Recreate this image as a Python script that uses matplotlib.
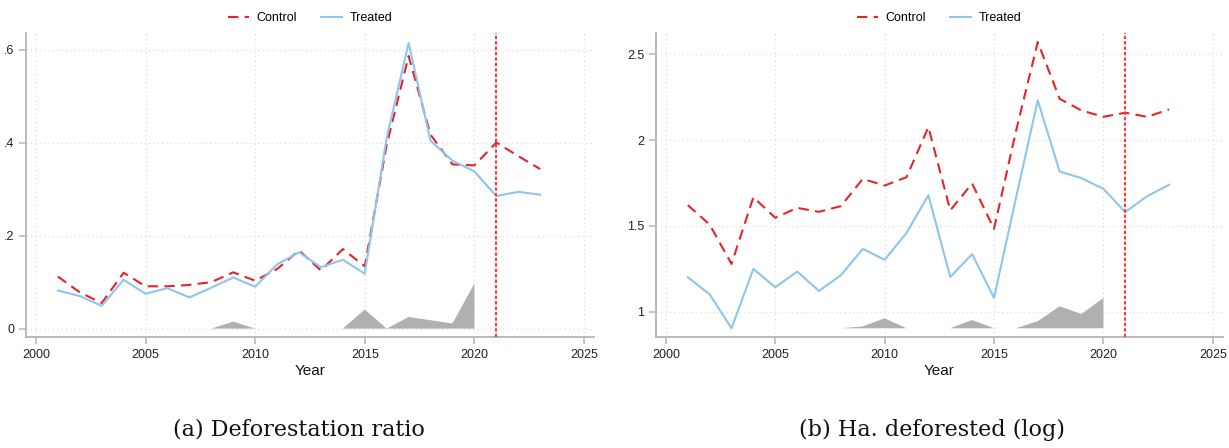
import matplotlib.pyplot as plt
import numpy as np

plt.rcParams['font.family'] = ['Liberation Sans', 'DejaVu Sans']

years = np.arange(2001, 2024)
nan = np.nan

# Panel (a): deforestation ratio
ratio_control = [0.112, 0.078, 0.055, 0.120, 0.091, 0.091, 0.094, 0.100, 0.121, 0.103,
                 0.128, 0.168, 0.125, 0.171, 0.134, 0.395, 0.586, 0.417, 0.353, 0.351,
                 0.400, 0.371, 0.343]
ratio_treated = [0.082, 0.070, 0.049, 0.105, 0.075, 0.087, 0.067, 0.088, 0.110, 0.090,
                 0.138, 0.164, 0.132, 0.148, 0.118, 0.410, 0.614, 0.404, 0.361, 0.338,
                 0.285, 0.294, 0.288]
ratio_gap = [nan, nan, nan, nan, nan, nan, nan, 0.0, 0.015, 0.0,
             nan, nan, nan, 0.0, 0.041, 0.0, 0.025, 0.018, 0.011, 0.097,
             nan, nan, nan]
ratio_base = 0.0

# Panel (b): hectares deforested (log)
ha_control = [1.621, 1.508, 1.278, 1.667, 1.547, 1.605, 1.582, 1.615, 1.774, 1.735,
              1.784, 2.076, 1.591, 1.747, 1.482, 2.050, 2.572, 2.241, 2.173, 2.136,
              2.160, 2.136, 2.179]
ha_treated = [1.200, 1.101, 0.903, 1.249, 1.142, 1.233, 1.121, 1.212, 1.366, 1.302,
              1.459, 1.679, 1.202, 1.335, 1.080, 1.660, 2.232, 1.817, 1.778, 1.716,
              1.580, 1.673, 1.739]
ha_gap = [nan, nan, nan, nan, nan, nan, nan, 0.903, 0.914, 0.961,
          0.903, nan, 0.903, 0.951, 0.903, 0.903, 0.944, 1.031, 0.986, 1.080,
          nan, nan, nan]
ha_base = 0.903

treat_year = 2021
xticks = [2000, 2005, 2010, 2015, 2020, 2025]

fig = plt.figure(figsize=(12.29, 4.48), dpi=100)
ax1 = fig.add_axes([0.0212, 0.2478, 0.462, 0.679])
ax2 = fig.add_axes([0.5338, 0.2478, 0.461, 0.679])

panels = [
    (ax1, ratio_control, ratio_treated, ratio_gap, ratio_base,
     (-0.018, 0.636), [0, 0.2, 0.4, 0.6], ['0', '.2', '.4', '.6'],
     '(a) Deforestation ratio', 0.481),
    (ax2, ha_control, ha_treated, ha_gap, ha_base,
     (0.852, 2.626), [1, 1.5, 2, 2.5], ['1', '1.5', '2', '2.5'],
     '(b) Ha. deforested (log)', 0.487),
]

for ax, ctrl, trt, gap, base, ylim, yt, ytl, caption, cap_x in panels:
    gap = np.array(gap, dtype=float)
    ax.fill_between(years, base, gap, where=~np.isnan(gap), color='#b0b0b0',
                    linewidth=0, zorder=2)
    ax.plot(years, ctrl, color='#e3242b', linestyle=(0, (5, 3)), linewidth=1.5,
            label='Control', zorder=3)
    ax.plot(years, trt, color='#8ec5ec', linewidth=1.5, label='Treated', zorder=3)
    ax.axvline(treat_year, color='#ff3838', linestyle=(0, (1.6, 1.0)), linewidth=1.5,
               zorder=4)

    ax.set_xlim(1999.55, 2025.45)
    ax.set_ylim(*ylim)
    ax.set_xticks(xticks)
    ax.set_yticks(yt)
    ax.set_yticklabels(ytl)
    ax.grid(True, color='#dcdcdc', linestyle=(0, (1, 2.5)), linewidth=0.9)
    ax.set_axisbelow(True)
    for side in ['top', 'right']:
        ax.spines[side].set_visible(False)
    for side in ['left', 'bottom']:
        ax.spines[side].set_color('#b4b4b4')
        ax.spines[side].set_linewidth(1.3)
    ax.tick_params(axis='both', colors='#b4b4b4', labelcolor='#222222',
                   labelsize=9, length=5, width=1.1, direction='out')
    ax.set_xlabel('Year', fontsize=11, color='#111111', labelpad=2)

    ax.legend(loc='lower center', bbox_to_anchor=(0.5, 1.0), ncol=2, frameon=False,
              fontsize=9, handlelength=1.7, handletextpad=0.6, columnspacing=1.9,
              borderaxespad=0.3)

    ax.text(cap_x, -0.305, caption, transform=ax.transAxes, ha='center', va='center',
            fontsize=16, family=['DejaVu Serif'], color='#111111')

fig.savefig('out.png', dpi=100)
